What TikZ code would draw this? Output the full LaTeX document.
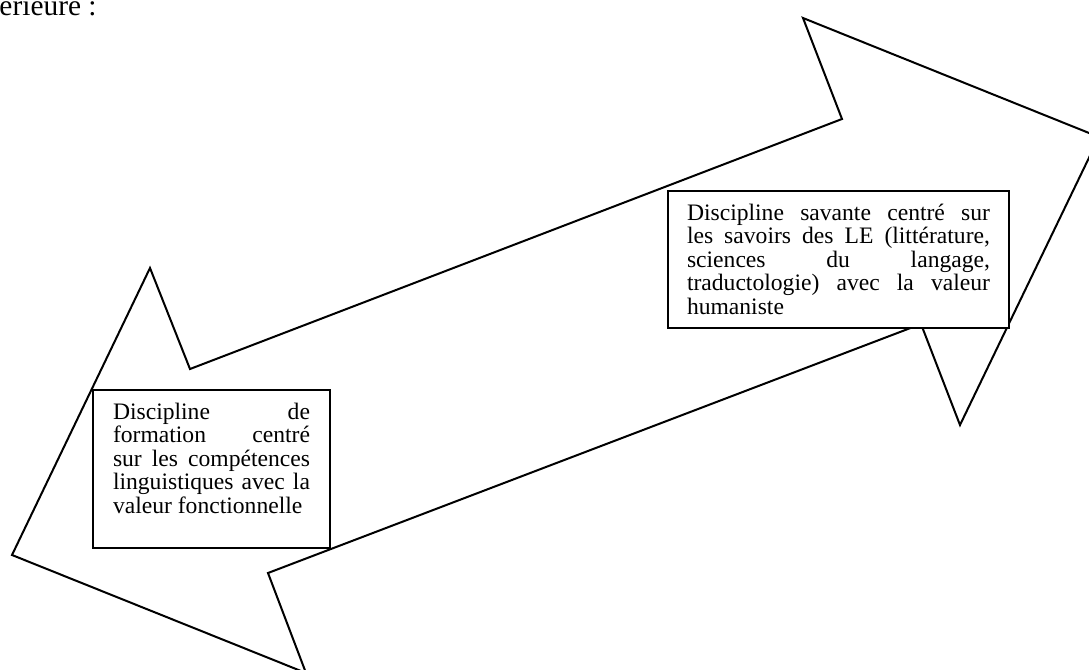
\documentclass[tikz,border=0pt]{standalone}
\usepackage{fontspec}
\setmainfont{Liberation Serif}

% one justified line of a given width
\newcommand{\jline}[2]{\makebox[#1][s]{\spaceskip=0pt\xspaceskip=0pt\relax #2}}

\begin{document}
\begin{tikzpicture}[
        x = 0.5pt, y = -0.5pt,
        box/.style = {
            draw,
            fill = white,
            line width = 1pt,
            anchor = north west,
            align = justify,
            inner xsep = #1,
            inner ysep = 0pt,
            outer sep = 0pt,
            font = \fontsize{11.8}{11.75}\selectfont
        },
        box/.default = 10pt,
        arrowline/.style = {line width = 1pt, line join = miter}
        ]
%
        \useasboundingbox (0,0) rectangle (1089,670);
%
        \node[anchor=base east, inner sep=0pt, font=\fontsize{14.7}{17}\selectfont] (suite) at (97,15) {érieure :};
%
% double arrow
        \draw[arrowline] (1099,137) -- (960,425) -- (921,324) -- (268,573) -- (306,673)
                      -- (12,555) -- (150,268) -- (190,369) -- (842,119) -- (803,18) -- cycle;
%
        \node[box, text width=98.5pt, text height=14.5pt, text depth=64.5pt] (formation) at (93,390)
            {\jline{98.5pt}{Discipline de}\\
             \jline{98.5pt}{formation centré}\\
             \jline{98.5pt}{sur les compétences}\\
             \jline{98.5pt}{linguistiques avec la}\\
             valeur fonctionnelle};
%
        \node[box=9.5pt, text width=151.5pt, text height=14.5pt, text depth=54pt] (savante) at (668,191)
            {\jline{151.5pt}{Discipline savante centré sur}\\
             \jline{151.5pt}{les savoirs des LE (littérature,}\\
             \jline{151.5pt}{sciences du langage,}\\
             \jline{151.5pt}{traductologie) avec la valeur}\\
             humaniste};
%
    \end{tikzpicture}
\end{document}
